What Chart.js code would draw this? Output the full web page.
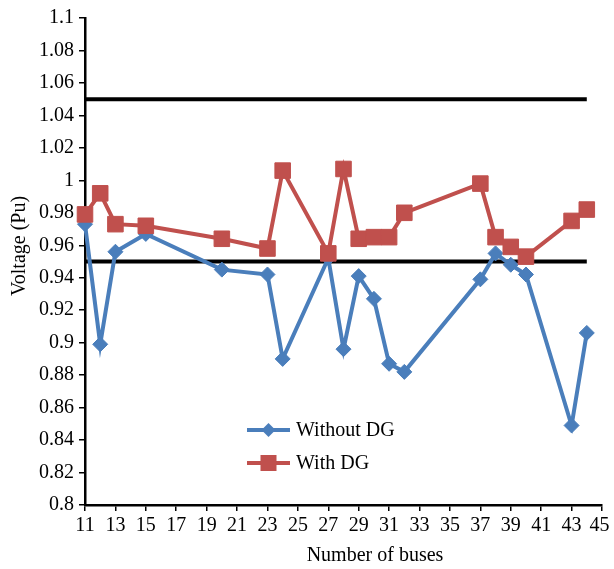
<!DOCTYPE html>
<html>
<head>
<meta charset="utf-8">
<title>Bus voltage profile</title>
<script src="https://cdn.jsdelivr.net/npm/chart.js@4.4.1/dist/chart.umd.min.js"></script>
<style>
  html, body { margin: 0; padding: 0; background: #ffffff; }
  #wrap { width: 614px; height: 569px; }
</style>
</head>
<body>
<div id="wrap"><canvas id="chart" width="614" height="569"></canvas></div>
<script>
// Bus numbers and voltage magnitudes (per unit)
const buses = [11, 12, 13, 15, 20, 23, 24, 27, 28, 29, 30, 31, 32, 37, 38, 39, 40, 43, 44];
const voltageWithoutDG = [0.973, 0.899, 0.956, 0.967, 0.945, 0.942, 0.890, 0.952, 0.896, 0.941,
                          0.927, 0.887, 0.882, 0.939, 0.955, 0.948, 0.942, 0.849, 0.906];
const voltageWithDG = [0.979, 0.992, 0.973, 0.972, 0.964, 0.958, 1.006, 0.955, 1.007, 0.964,
                       0.965, 0.965, 0.980, 0.998, 0.965, 0.959, 0.953, 0.975, 0.982];

// Permissible voltage band
const limitBuses = [11, 44];
const upperLimit = 1.05;
const lowerLimit = 0.95;

// Axis ticks and labels
const xTicks = [11, 13, 15, 17, 19, 21, 23, 25, 27, 29, 31, 33, 35, 37, 39, 41, 43, 45];
const yTicks = [0.8, 0.82, 0.84, 0.86, 0.88, 0.9, 0.92, 0.94, 0.96, 0.98, 1,
                1.02, 1.04, 1.06, 1.08, 1.1];
const seriesNames = ['Without DG', 'With DG'];
const xTitle = 'Number of buses';
const yTitle = 'Voltage (Pu)';

const BLUE = '#4A7EBB';
const RED = '#C0504D';
const FONT = '"Liberation Serif", "Times New Roman", Times, serif';

function toPoints(xs, ys) {
  return xs.map((x, i) => ({ x: x, y: ys[i] }));
}

function drawDiamond(ctx, x, y, r, color) {
  ctx.beginPath();
  ctx.moveTo(x - r, y);
  ctx.lineTo(x, y - r);
  ctx.lineTo(x + r, y);
  ctx.lineTo(x, y + r);
  ctx.closePath();
  ctx.fillStyle = color;
  ctx.fill();
}

function drawSquare(ctx, x, y, half, color) {
  ctx.fillStyle = color;
  ctx.fillRect(x - half, y - half, half * 2, half * 2);
}

// Axis titles and the in-plot legend
const annotations = {
  id: 'annotations',
  afterDraw(chart) {
    const ctx = chart.ctx;
    ctx.save();
    ctx.fillStyle = '#000000';
    ctx.font = '20px ' + FONT;
    ctx.textAlign = 'center';
    ctx.textBaseline = 'middle';
    ctx.fillText(xTitle, 375, 556);

    ctx.save();
    ctx.translate(20, 246);
    ctx.rotate(-Math.PI / 2);
    ctx.fillText(yTitle, 0, 0);
    ctx.restore();

    const entries = [
      { name: seriesNames[0], color: BLUE, marker: 'diamond', y: 430 },
      { name: seriesNames[1], color: RED, marker: 'square', y: 463 }
    ];
    entries.forEach(e => {
      ctx.strokeStyle = e.color;
      ctx.lineWidth = 4;
      ctx.beginPath();
      ctx.moveTo(247, e.y);
      ctx.lineTo(290, e.y);
      ctx.stroke();
      if (e.marker === 'diamond') {
        drawDiamond(ctx, 268.5, e.y, 7, e.color);
      } else {
        drawSquare(ctx, 268.5, e.y, 8, e.color);
      }
      ctx.fillStyle = '#000000';
      ctx.textAlign = 'left';
      ctx.textBaseline = 'middle';
      ctx.fillText(e.name, 296, e.y + 1);
    });
    ctx.restore();
  }
};

const tickFont = { family: FONT, size: 20 };
const lastX = xTicks[xTicks.length - 1];

new Chart(document.getElementById('chart'), {
  type: 'line',
  data: {
    datasets: [
      {
        label: seriesNames[1],
        data: toPoints(buses, voltageWithDG),
        borderColor: RED,
        backgroundColor: RED,
        borderWidth: 4,
        pointStyle: 'rect',
        pointRadius: 11,
        pointBorderWidth: 1,
        pointBackgroundColor: RED,
        pointBorderColor: RED,
        tension: 0,
        clip: false,
        order: 0
      },
      {
        label: seriesNames[0],
        data: toPoints(buses, voltageWithoutDG),
        borderColor: BLUE,
        backgroundColor: BLUE,
        borderWidth: 4,
        pointStyle: 'rectRot',
        pointRadius: 7.5,
        pointBorderWidth: 1,
        pointBackgroundColor: BLUE,
        pointBorderColor: BLUE,
        tension: 0,
        clip: false,
        order: 1
      },
      {
        label: 'Upper limit',
        data: toPoints(limitBuses, [upperLimit, upperLimit]),
        borderColor: '#000000',
        borderWidth: 4,
        pointRadius: 0,
        clip: false,
        order: 2
      },
      {
        label: 'Lower limit',
        data: toPoints(limitBuses, [lowerLimit, lowerLimit]),
        borderColor: '#000000',
        borderWidth: 4,
        pointRadius: 0,
        clip: false,
        order: 2
      }
    ]
  },
  options: {
    responsive: false,
    animation: false,
    devicePixelRatio: 1,
    events: [],
    layout: { padding: { top: 18, right: 7, bottom: 0, left: 0 } },
    plugins: {
      legend: { display: false },
      tooltip: { enabled: false },
      title: { display: false }
    },
    scales: {
      x: {
        type: 'linear',
        min: 11,
        max: 45,
        afterBuildTicks: s => { s.ticks = xTicks.map(v => ({ value: v })); },
        afterFit: s => { s.height = 64; s.paddingLeft = 0; s.paddingRight = 0; },
        ticks: {
          font: tickFont,
          color: '#000000',
          padding: 3,
          maxRotation: 0,
          autoSkip: false,
          // trailing space nudges the last label left so it stays on the canvas
          callback: v => (v === lastX ? String(v) + ' ' : String(v))
        },
        grid: {
          drawOnChartArea: false,
          drawTicks: true,
          tickLength: 6,
          color: '#000000',
          lineWidth: 1.5
        },
        border: { display: true, color: '#000000', width: 2.5 }
      },
      y: {
        type: 'linear',
        min: 0.8,
        max: 1.1,
        afterBuildTicks: s => { s.ticks = yTicks.map(v => ({ value: v })); },
        afterFit: s => { s.width = 85; s.paddingTop = 0; s.paddingBottom = 0; },
        ticks: {
          font: tickFont,
          color: '#000000',
          padding: 5,
          autoSkip: false,
          callback: v => String(parseFloat(Number(v).toFixed(2)))
        },
        grid: {
          drawOnChartArea: false,
          drawTicks: true,
          tickLength: 6,
          color: '#000000',
          lineWidth: 1.5
        },
        border: { display: true, color: '#000000', width: 2.5 }
      }
    }
  },
  plugins: [annotations]
});
</script>
</body>
</html>
